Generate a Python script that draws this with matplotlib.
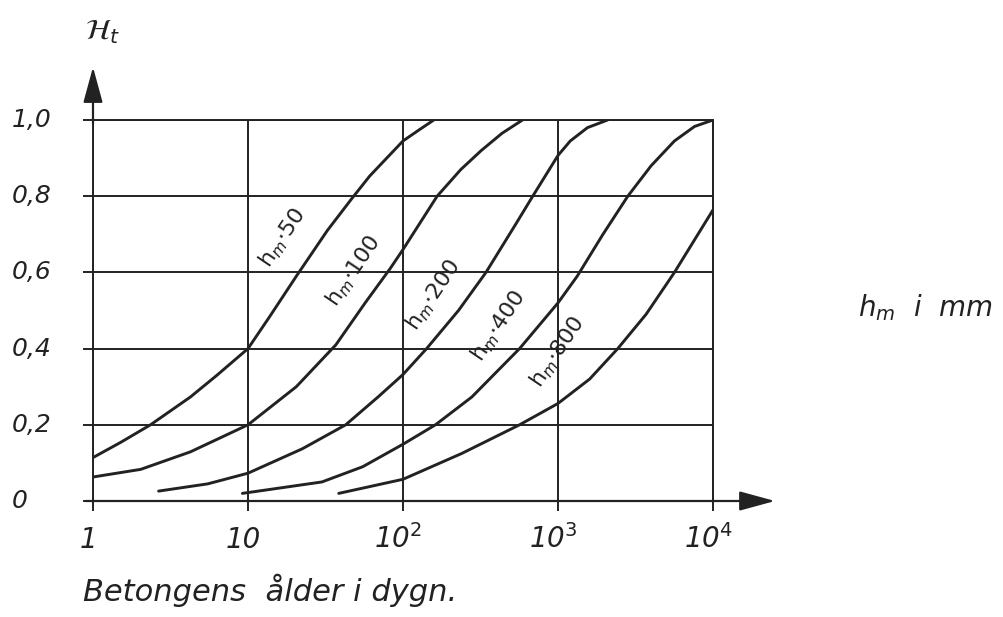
import matplotlib.pyplot as plt

plt.rcParams['font.family'] = ['DejaVu Sans']
plt.rcParams['mathtext.fontset'] = 'dejavusans'

ink = '#222222'

# curves: age in days, relative value
x50 = [1, 1.51, 2.35, 4.25, 6.3, 10, 13.8, 20.5, 32.5, 47, 61, 100, 128, 158]
y50 = [0.114, 0.154, 0.2, 0.273, 0.33, 0.4, 0.484, 0.59, 0.71, 0.795, 0.853, 0.945, 0.975, 1.0]

x100 = [1, 2.03, 4.25, 10, 20.5, 36.9, 57, 82.6, 100, 166, 236, 320, 435, 590]
y100 = [0.063, 0.083, 0.129, 0.2, 0.3, 0.41, 0.52, 0.61, 0.66, 0.8, 0.87, 0.92, 0.965, 1.0]

x200 = [2.65, 5.5, 10, 22.4, 42.7, 69, 100, 142, 228, 343, 540, 687, 1000, 1200, 1550, 2090]
y200 = [0.026, 0.045, 0.073, 0.137, 0.2, 0.273, 0.332, 0.4, 0.5, 0.6, 0.73, 0.8, 0.907, 0.945, 0.98, 1.0]

x400 = [9.2, 30, 55, 100, 162, 278, 565, 1000, 1330, 1950, 2820, 3990, 5640, 7600, 10000]
y400 = [0.02, 0.05, 0.09, 0.149, 0.2, 0.273, 0.4, 0.52, 0.59, 0.7, 0.8, 0.88, 0.945, 0.983, 1.0]

x800 = [38.5, 100, 240, 565, 1000, 1600, 2430, 3700, 5640, 10000]
y800 = [0.02, 0.057, 0.125, 0.2, 0.256, 0.32, 0.4, 0.49, 0.6, 0.764]

curves = [(x50, y50), (x100, y100), (x200, y200), (x400, y400), (x800, y800)]

hm_labels = ['50', '100', '200', '400', '800']
label_x = [16.7, 48, 158, 417, 1000]
label_y = [0.69, 0.603, 0.54, 0.46, 0.39]

xticks = [1, 10, 100, 1000, 10000]
xtick_labels = ['1', '10', '10$^{2}$', '10$^{3}$', '10$^{4}$']
yticks = [0, 0.2, 0.4, 0.6, 0.8, 1.0]
ytick_labels = ['0', '0,2', '0,4', '0,6', '0,8', '1,0']

fig = plt.figure(figsize=(10.04, 6.17), dpi=100)
ax = fig.add_axes([93 / 1004, 116 / 617, 620 / 1004, 381 / 617])
ax.set_xscale('log')
ax.set_xlim(1, 1e4)
ax.set_ylim(0, 1.0)

for xs, ys in curves:
    ax.plot(xs, ys, color=ink, lw=2.1, solid_capstyle='round', solid_joinstyle='round')

for lab, lx, ly in zip(hm_labels, label_x, label_y):
    ax.text(lx, ly, 'h$_m$·' + lab, rotation=56, rotation_mode='anchor',
            ha='center', va='center', fontsize=16, color=ink)

ax.set_xticks(xticks)
ax.set_yticks(yticks)
ax.minorticks_off()
ax.set_xticklabels([])
ax.set_yticklabels([])
ax.tick_params(direction='out', length=7, width=1.4, color=ink)
ax.grid(True, color=ink, lw=1.4)
for s in ax.spines.values():
    s.set_color(ink)
    s.set_linewidth(1.4)

for xv, lab in zip(xticks, xtick_labels):
    ax.text(xv * 0.93, -0.124, lab, transform=ax.get_xaxis_transform(),
            ha='center', va='baseline', fontsize=20, fontstyle='italic', color=ink)
for yv, lab in zip(yticks, ytick_labels):
    ax.text(-0.131, yv, lab, transform=ax.get_yaxis_transform(),
            ha='left', va='center', fontsize=18, fontstyle='italic', color=ink)

# axis arrows
arrow = dict(arrowstyle='-|>,head_length=1.1,head_width=0.3', color=ink,
             lw=1.6, mutation_scale=20, shrinkA=0, shrinkB=0)
ax.annotate('', xy=(1.1, 0), xytext=(-0.012, 0), xycoords='axes fraction',
            arrowprops=arrow, annotation_clip=False)
ax.annotate('', xy=(0, 1.139), xytext=(0, 0.99), xycoords='axes fraction',
            arrowprops=arrow, annotation_clip=False)

fig.text(85 / 1004, 1 - 32 / 617, r'$\mathcal{H}_t$', fontsize=21,
         ha='left', va='center', color=ink)
fig.text(858 / 1004, 1 - 308 / 617, 'h$_m$  i  mm', fontsize=20,
         fontstyle='italic', ha='left', va='center', color=ink)
fig.text(83 / 1004, 1 - 590 / 617, 'Betongens  ålder i dygn.', fontsize=22,
         fontstyle='italic', ha='left', va='center', color=ink)

fig.savefig('out.png', dpi=100, facecolor='white')
